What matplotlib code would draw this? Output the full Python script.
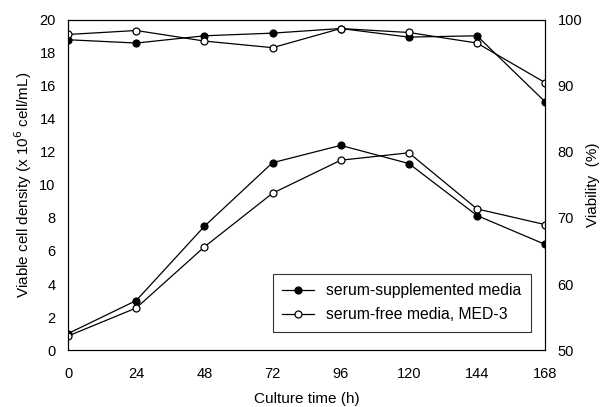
import numpy as np
import matplotlib
matplotlib.use("Agg")
import matplotlib.pyplot as plt

plt.rcParams["font.family"] = ["Liberation Sans", "DejaVu Sans"]

time_h = [0, 24, 48, 72, 96, 120, 144, 168]

# viable cell density (x 10^6 cell/mL), left axis
density_serum = [1.0, 3.0, 7.5, 11.35, 12.4, 11.3, 8.15, 6.4]
density_free = [0.85, 2.55, 6.25, 9.5, 11.5, 11.95, 8.55, 7.6]

# viability (%), right axis
viab_serum = [97.0, 96.5, 97.6, 98.0, 98.7, 97.4, 97.6, 87.6]
viab_free = [97.8, 98.4, 96.8, 95.8, 98.7, 98.1, 96.5, 90.5]

fig = plt.figure(figsize=(6.03, 4.07), dpi=100)
ax = fig.add_axes([0.113, 0.140, 0.791, 0.811])
ax2 = ax.twinx()

mk = dict(color="black", lw=0.9, ms=5, mew=0.9)
l1, = ax.plot(time_h, density_serum, "o-", mfc="black", **mk,
              label="serum-supplemented media")
l2, = ax.plot(time_h, density_free, "o-", mfc="white", **mk,
              label="serum-free media, MED-3")
ax2.plot(time_h, viab_serum, "o-", mfc="black", **mk)
ax2.plot(time_h, viab_free, "o-", mfc="white", **mk)

ax.set_xlim(0, 168)
ax.set_ylim(0, 20)
ax2.set_ylim(50, 100)
ax.set_xticks(time_h)
ax.set_yticks(np.arange(0, 21, 2))
ax2.set_yticks(np.arange(50, 101, 10))

for a in (ax, ax2):
    a.tick_params(length=0, labelsize=10.5, pad=9)
    for s in a.spines.values():
        s.set_linewidth(0.8)
ax.tick_params(axis="x", pad=12)

ax.set_xlabel("Culture time (h)", fontsize=11, labelpad=8)
ax.set_ylabel("Viable cell density (x 10$^6$ cell/mL)", fontsize=11, labelpad=4)
ax2.set_ylabel("Viability  (%)", fontsize=11, labelpad=3)

leg = ax.legend(handles=[l1, l2], loc="lower right", bbox_to_anchor=(0.97, 0.055),
                borderaxespad=0, fontsize=11.3, frameon=True, fancybox=False,
                edgecolor="black", handlelength=2.0, borderpad=0.6, labelspacing=0.6)
leg.get_frame().set_linewidth(0.8)

fig.savefig("out.png", dpi=100)
